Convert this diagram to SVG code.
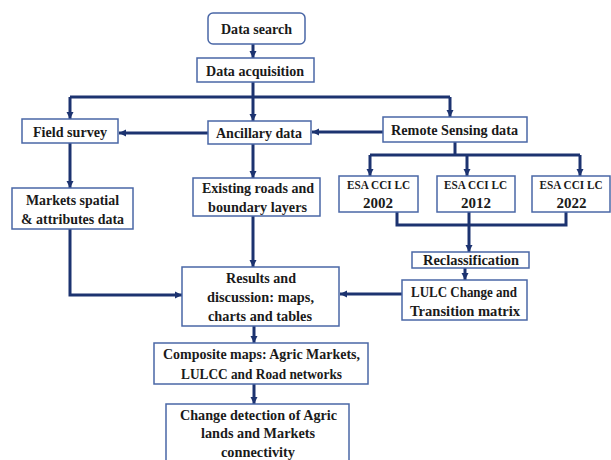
<svg xmlns="http://www.w3.org/2000/svg" width="611" height="460" viewBox="0 0 611 460">
<style>
.box{fill:#ffffff;stroke:#4a67a6;stroke-width:1.5}
.t{font-family:"Liberation Serif","Times New Roman",serif;font-weight:bold;font-size:15px;fill:#1a1a1a;text-anchor:middle}
.s{font-size:13px}
.c{fill:none;stroke:#1c3370;stroke-width:3;stroke-linejoin:miter}
.a{marker-end:url(#ah)}
</style>
<defs>
<marker id="ah" markerUnits="userSpaceOnUse" markerWidth="8" markerHeight="8" refX="7" refY="4" orient="auto">
<path d="M0,0.5 L7,4 L0,7.5 z" fill="#1c3370"/>
</marker>
</defs>
<rect width="611" height="460" fill="#ffffff"/>
<g id="connectors">
<path class="c a" d="M253,44 V58"/>
<path class="c a" d="M253,82 V121"/>
<path class="c" d="M70,97 H450"/>
<path class="c a" d="M70,97 V119"/>
<path class="c a" d="M450,97 V117"/>
<path class="c a" d="M208,133 H119"/>
<path class="c a" d="M383,132 H312"/>
<path class="c" d="M455,142 V155"/>
<path class="c" d="M370,155 H580"/>
<path class="c a" d="M370,155 V176"/>
<path class="c a" d="M467,155 V176"/>
<path class="c a" d="M580,155 V176"/>
<path class="c" d="M397,212 V225 H566 V212"/>
<path class="c a" d="M469,212 V252"/>
<path class="c a" d="M465,268 V280"/>
<path class="c a" d="M402,294 H340"/>
<path class="c a" d="M70,143 V188"/>
<path class="c a" d="M70,229 V295 H182"/>
<path class="c a" d="M253,144 V178"/>
<path class="c a" d="M253,216 V267"/>
<path class="c a" d="M254,326 V343"/>
<path class="c a" d="M254,384 V404"/>
</g>
<g id="data-search"><rect class="box" x="208" y="13" width="97" height="31" rx="5"/><text class="t" x="256.5" y="34" textLength="71" lengthAdjust="spacingAndGlyphs">Data search</text></g>
<g id="data-acquisition"><rect class="box" x="197" y="58" width="117" height="24"/><text class="t" x="255" y="76" textLength="98" lengthAdjust="spacingAndGlyphs">Data acquisition</text></g>
<g id="field-survey"><rect class="box" x="22" y="119" width="96" height="24"/><text class="t" x="70" y="137" textLength="74" lengthAdjust="spacingAndGlyphs">Field survey</text></g>
<g id="ancillary-data"><rect class="box" x="208" y="121" width="103" height="23"/><text class="t" x="259" y="138" textLength="86" lengthAdjust="spacingAndGlyphs">Ancillary data</text></g>
<g id="remote-sensing"><rect class="box" x="383" y="117" width="144" height="25"/><text class="t" x="454.5" y="135" textLength="127" lengthAdjust="spacingAndGlyphs">Remote Sensing data</text></g>
<g id="markets-spatial"><rect class="box" x="12" y="188" width="121" height="41"/><text class="t" x="72.5" y="205" textLength="93" lengthAdjust="spacingAndGlyphs">Markets spatial</text><text class="t" x="72.5" y="224" textLength="103" lengthAdjust="spacingAndGlyphs">&amp; attributes data</text></g>
<g id="existing-roads"><rect class="box" x="193" y="178" width="127" height="38"/><text class="t" x="258" y="193" textLength="112" lengthAdjust="spacingAndGlyphs">Existing roads and</text><text class="t" x="257.5" y="212" textLength="99" lengthAdjust="spacingAndGlyphs">boundary layers</text></g>
<g id="esa-2002"><rect class="box" x="339" y="176" width="79" height="36"/><text class="t s" x="378.5" y="189" textLength="63" lengthAdjust="spacingAndGlyphs">ESA CCI LC</text><text class="t" x="378" y="208" textLength="30" lengthAdjust="spacingAndGlyphs">2002</text></g>
<g id="esa-2012"><rect class="box" x="437" y="176" width="78" height="36"/><text class="t s" x="475.5" y="189" textLength="63" lengthAdjust="spacingAndGlyphs">ESA CCI LC</text><text class="t" x="476" y="208" textLength="30" lengthAdjust="spacingAndGlyphs">2012</text></g>
<g id="esa-2022"><rect class="box" x="532" y="176" width="78" height="36"/><text class="t s" x="571" y="189" textLength="63" lengthAdjust="spacingAndGlyphs">ESA CCI LC</text><text class="t" x="571.5" y="208" textLength="30" lengthAdjust="spacingAndGlyphs">2022</text></g>
<g id="reclassification"><rect class="box" x="412" y="252" width="117" height="16"/><text class="t" x="471" y="265" textLength="96" lengthAdjust="spacingAndGlyphs">Reclassification</text></g>
<g id="lulc-change"><rect class="box" x="402" y="280" width="125" height="40"/><text class="t" x="464" y="297" textLength="106" lengthAdjust="spacingAndGlyphs">LULC Change and</text><text class="t" x="465" y="316" textLength="110" lengthAdjust="spacingAndGlyphs">Transition matrix</text></g>
<g id="results"><rect class="box" x="182" y="267" width="157" height="59"/><text class="t" x="261" y="283" textLength="70" lengthAdjust="spacingAndGlyphs">Results and</text><text class="t" x="260.5" y="302" textLength="107" lengthAdjust="spacingAndGlyphs">discussion: maps,</text><text class="t" x="260" y="321" textLength="104" lengthAdjust="spacingAndGlyphs">charts and tables</text></g>
<g id="composite-maps"><rect class="box" x="154" y="343" width="214" height="41"/><text class="t" x="261.5" y="359" textLength="197" lengthAdjust="spacingAndGlyphs">Composite maps: Agric Markets,</text><text class="t" x="261.5" y="379" textLength="161" lengthAdjust="spacingAndGlyphs">LULCC and Road networks</text></g>
<g id="change-detection"><rect class="box" x="166" y="404" width="183" height="62"/><text class="t" x="258.5" y="420" textLength="157" lengthAdjust="spacingAndGlyphs">Change detection of Agric</text><text class="t" x="258" y="438" textLength="114" lengthAdjust="spacingAndGlyphs">lands and Markets</text><text class="t" x="258" y="457" textLength="74" lengthAdjust="spacingAndGlyphs">connectivity</text></g>
</svg>
